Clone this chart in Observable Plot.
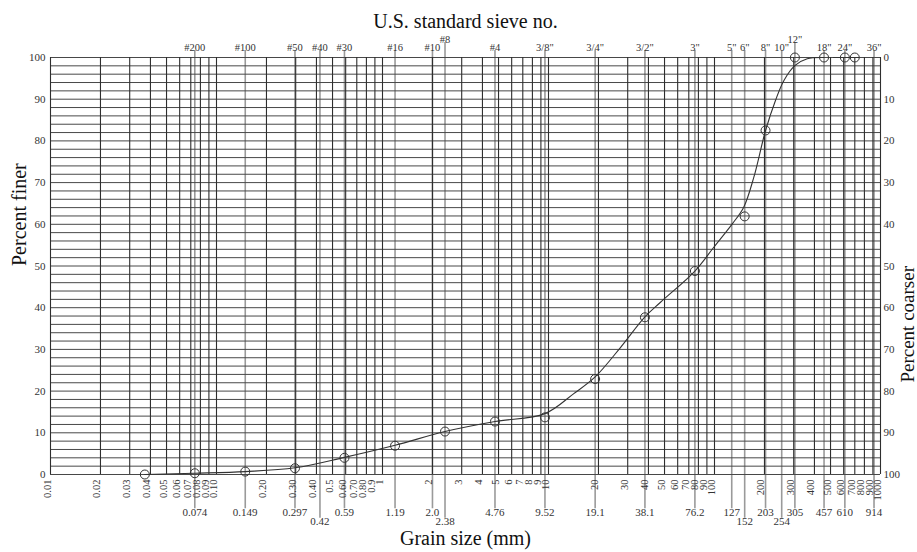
<!DOCTYPE html>
<html><head><meta charset="utf-8">
<script src="https://cdn.jsdelivr.net/npm/d3@7"></script>
<script src="https://cdn.jsdelivr.net/npm/@observablehq/plot@0.6"></script>
<style>body{margin:0;background:#fff}</style>
</head><body><div id="chart"></div>
<script>
// ---- data ----
const gridLabels = ["0.01","0.02","0.03","0.04","0.05","0.06","0.07","0.08","0.09","0.10",
  "0.20","0.30","0.40","0.5","0.60","0.70","0.80","0.9","1",
  "2","3","4","5","6","7","8","9","10",
  "20","30","40","50","60","70","80","90","100",
  "200","300","400","500","600","700","800","900","1000"];
const gridValues = gridLabels.map(Number);
const hLines = [0,2,4,6,8,10,12,14,16,18,20,22,24,26,28,30,32,34,36,38,40,42,44,46,48,50,
  52,54,56,58,60,62,64,66,68,70,72,74,76,78,80,82,84,86,88,90,92,94,96,98,100];
const yTicks = [0,10,20,30,40,50,60,70,80,90,100];
const sieveNames = ["#200","#100","#50","#40","#30","#16","#10","#8","#4","3/8\"","3/4\"","3/2\"","3\"","5\"","6\"","8\"","10\"","12\"","18\"","24\"","36\""];
const sieveMm = [0.074,0.149,0.297,0.42,0.59,1.19,2.0,2.38,4.76,9.52,19.1,38.1,76.2,127,152,203,254,305,457,610,914];
const sieveMmLabels = ["0.074","0.149","0.297","0.42","0.59","1.19","2.0","2.38","4.76","9.52","19.1","38.1","76.2","127","152","203","254","305","457","610","914"];
const sieveLowRow = ["0.42","2.38","152","254"];
const sieveRaised = ["#8","12\""];
const sampleSize = [0.037,0.074,0.149,0.297,0.59,1.19,2.38,4.76,9.52,19.1,38.1,76.2,152,203,305,457,610,700];
const samplePct  = [0.0,0.3,0.7,1.5,4.0,6.9,10.3,12.7,13.7,22.9,37.7,48.8,61.9,82.5,100,100,100,100];
const curveSize = [0.037,0.074,0.149,0.297,0.59,1.19,2.38,4.76,9.52,14.2,19.1,27.2,38.1,47.3,76.2,99,128,150,172.6,203,233,262,306,362,457];
const curvePct  = [0.0,0.3,0.7,1.6,4.1,7.0,10.3,12.7,14.6,19.4,23.4,30.5,37.8,41.3,48.8,54.5,60.1,64.1,71.3,82.5,89.7,94.5,98.1,99.7,100];
const tailSize = [520,610,700,737];
const tailPct  = [100,100,100,100];

// ---- derived tables ----
const sieves = sieveMm.map((mm,i)=>({mm, name:sieveNames[i], label:sieveMmLabels[i],
  low: sieveLowRow.includes(sieveMmLabels[i]), raised: sieveRaised.includes(sieveNames[i])}));
const samples = sampleSize.map((s,i)=>({s, p:samplePct[i]}));
const curve = curveSize.map((s,i)=>({s, p:curvePct[i]}));
const tail = tailSize.map((s,i)=>({s, p:tailPct[i]}));
const serif = "'Liberation Serif','Times New Roman',serif";

const chart = Plot.plot({
  width: 917, height: 552,
  marginTop: 57, marginBottom: 78, marginLeft: 50, marginRight: 37,
  x: {type: "log", domain: [0.01, 1000], axis: null},
  y: {domain: [0, 100], axis: null},
  style: {fontFamily: serif, background: "#fff", color: "#333"},
  marks: [
    Plot.ruleX(sieves, {x: "mm", y1: d => d.low ? -10.5 : -8.2, y2: d => d.raised ? 103.6 : 101.7, stroke: "#9a9a9a", strokeWidth: 1.6}),
    Plot.ruleY(hLines, {stroke: "#484848", strokeWidth: 1}),
    Plot.ruleX(gridValues, {stroke: "#2e2e2e", strokeWidth: 1.1}),
    Plot.axisY({ticks: yTicks, tickSize: 0, tickPadding: 5, fontSize: 11, label: null}),
    Plot.axisY({anchor: "right", ticks: yTicks, tickFormat: d => String(100 - d), tickSize: 0, tickPadding: 3, fontSize: 11, label: null}),
    Plot.text(gridValues, {x: d => d, text: (d, i) => gridLabels[i], frameAnchor: "bottom", rotate: -90, textAnchor: "end", dy: 5, fontSize: 10.5, fill: "#333"}),
    Plot.text(sieves.filter(d => !d.low), {x: "mm", text: "label", frameAnchor: "bottom", dy: 41, fontSize: 11, fill: "#333"}),
    Plot.text(sieves.filter(d => d.low), {x: "mm", text: "label", frameAnchor: "bottom", dy: 50, fontSize: 11, fill: "#333"}),
    Plot.text(sieves.filter(d => !d.raised), {x: "mm", text: "name", frameAnchor: "top", dy: -14, fontSize: 10.5, fill: "#333"}),
    Plot.text(sieves.filter(d => d.raised), {x: "mm", text: "name", frameAnchor: "top", dy: -22, fontSize: 10.5, fill: "#333"}),
    Plot.line(curve, {x: "s", y: "p", curve: "catmull-rom", stroke: "#333", strokeWidth: 1.1}),
    Plot.line(tail, {x: "s", y: "p", stroke: "#333", strokeWidth: 1.1}),
    Plot.dot(samples, {x: "s", y: "p", r: 4.5, stroke: "#333", fill: "none", strokeWidth: 1}),
    Plot.text(["U.S. standard sieve no."], {text: d => d, frameAnchor: "top", dy: -44, fontSize: 20, fill: "#111"}),
    Plot.text(["Grain size (mm)"], {text: d => d, frameAnchor: "bottom", dy: 70, fontSize: 20, fill: "#111"}),
    Plot.text(["Percent finer"], {text: d => d, frameAnchor: "left", dx: -31, rotate: -90, fontSize: 20, fill: "#111"}),
    Plot.text(["Percent coarser"], {text: d => d, frameAnchor: "right", dx: 27, rotate: -90, fontSize: 19, fill: "#111"})
  ]
});
document.getElementById("chart").append(chart);
</script>
</body></html>
